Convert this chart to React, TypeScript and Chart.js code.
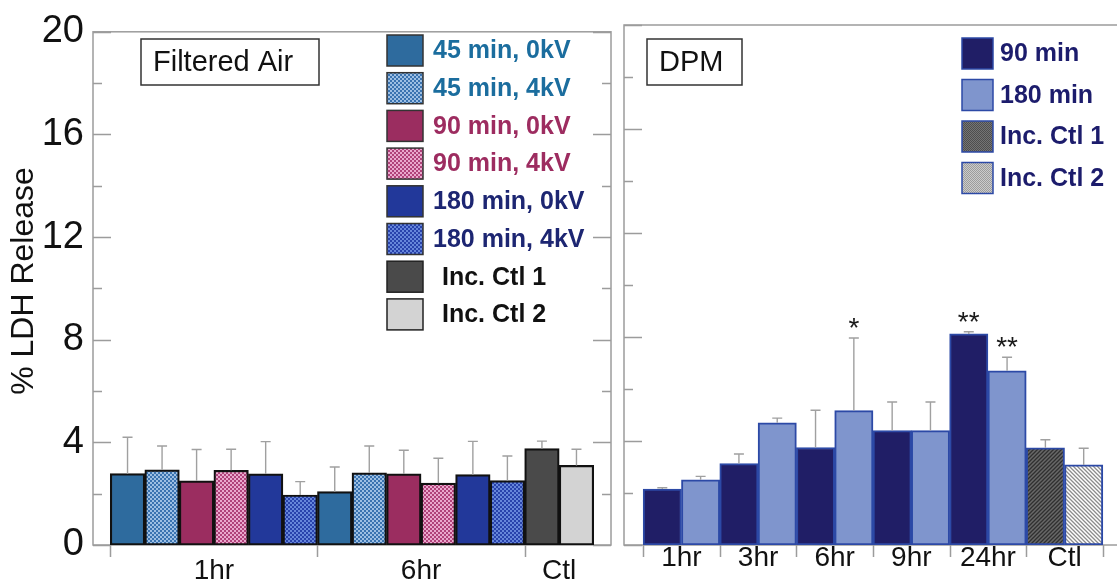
import { useEffect, useRef } from "react";
import { Chart, registerables } from "chart.js";

Chart.register(...registerables);

// ---- Filtered air panel ----
const airTimepoints = ["1hr", "6hr"];
const airSeries = ["45 min, 0kV", "45 min, 4kV", "90 min, 0kV", "90 min, 4kV", "180 min, 0kV", "180 min, 4kV"];
const air1hrMean = [2.78, 2.93, 2.5, 2.91, 2.77, 1.95];
const air1hrSd = [1.42, 0.93, 1.22, 0.82, 1.26, 0.52];
const air6hrMean = [2.08, 2.81, 2.77, 2.41, 2.74, 2.51];
const air6hrSd = [0.96, 1.05, 0.92, 0.97, 1.3, 0.96];
const airCtlLabels = ["Inc. Ctl 1", "Inc. Ctl 2"];
const airCtlMean = [3.76, 3.1];
const airCtlSd = [0.29, 0.63];

// ---- DPM panel ----
const dpmTimepoints = ["1hr", "3hr", "6hr", "9hr", "24hr"];
const dpmSeries = ["90 min", "180 min"];
const dpm90Mean = [2.15, 3.13, 3.75, 4.4, 8.12];
const dpm90Sd = [0.05, 0.37, 1.43, 1.1, 0.08];
const dpm90Sig = ["", "", "", "", "**"];
const dpm180Mean = [2.51, 4.7, 5.17, 4.4, 6.7];
const dpm180Sd = [0.13, 0.18, 2.79, 1.1, 0.52];
const dpm180Sig = ["", "", "*", "", "**"];
const dpmCtlLabels = ["Inc. Ctl 1", "Inc. Ctl 2"];
const dpmCtlMean = [3.74, 3.08];
const dpmCtlSd = [0.31, 0.64];

const ctlCategory = "Ctl";
const yTicks = { min: 0, max: 20, step: 4, minorStep: 2 };
const yTitle = "% LDH Release";

const FONT = '"Liberation Sans", Arial, Helvetica, sans-serif';

function checker(a: string, b: string, cell = 2): CanvasPattern {
  const c = document.createElement("canvas");
  c.width = c.height = cell * 2;
  const g = c.getContext("2d")!;
  g.fillStyle = a;
  g.fillRect(0, 0, cell * 2, cell * 2);
  g.fillStyle = b;
  g.fillRect(0, 0, cell, cell);
  g.fillRect(cell, cell, cell, cell);
  return g.createPattern(c, "repeat")!;
}

function hatch(bg: string, line: string, rising: boolean, gap = 4): CanvasPattern {
  const c = document.createElement("canvas");
  c.width = c.height = gap;
  const g = c.getContext("2d")!;
  g.fillStyle = bg;
  g.fillRect(0, 0, gap, gap);
  g.strokeStyle = line;
  g.lineWidth = 1.3;
  g.beginPath();
  if (rising) {
    g.moveTo(0, gap); g.lineTo(gap, 0);
    g.moveTo(-1, 1); g.lineTo(1, -1);
    g.moveTo(gap - 1, gap + 1); g.lineTo(gap + 1, gap - 1);
  } else {
    g.moveTo(0, 0); g.lineTo(gap, gap);
    g.moveTo(-1, gap - 1); g.lineTo(1, gap + 1);
    g.moveTo(gap - 1, -1); g.lineTo(gap + 1, 1);
  }
  g.stroke();
  return g.createPattern(c, "repeat")!;
}

type LegendItem = { label: string; fill: any; border: string; color: string; indent: number };
type Decor = {
  groups: { label: string; size: number }[];
  closeLast: boolean;
  rightTicks: boolean;
  legend: { x: number; y: number; w: number; h: number; gap: number; textX: number; items: LegendItem[] };
  box: { x: number; y: number; w: number; h: number; text: string };
  title: boolean;
};

function groupLayout(groups: { label: string; size: number }[]) {
  const centers: number[] = [];
  const starts: number[] = [];
  let pos = 0;
  groups.forEach((g) => {
    starts.push(pos - 0.5);
    centers.push(pos + (g.size - 1) / 2);
    pos += g.size;
  });
  return { centers, starts, end: pos - 0.5 };
}

function decorPlugin(d: Decor) {
  const lay = groupLayout(d.groups);
  return {
    id: "panelDecor",
    beforeDatasetsDraw(chart: any) {
      const { ctx, chartArea: a, scales } = chart;
      const ys = scales.y;
      const xs = scales.x;
      ctx.save();
      ctx.strokeStyle = "#9c9c9c";
      ctx.lineWidth = 1.5;
      ctx.strokeRect(a.left, a.top, a.right - a.left, a.bottom - a.top);
      ctx.beginPath();
      for (let v = yTicks.min; v <= yTicks.max; v += yTicks.minorStep) {
        const py = Math.round(ys.getPixelForValue(v)) + 0.5;
        const len = v % yTicks.step === 0 ? 18 : 9;
        ctx.moveTo(a.left, py);
        ctx.lineTo(a.left + len, py);
        if (d.rightTicks) {
          ctx.moveTo(a.right, py);
          ctx.lineTo(a.right - len, py);
        }
      }
      const bounds = d.closeLast ? [...lay.starts, lay.end] : lay.starts;
      bounds.forEach((b) => {
        const px = Math.round(xs.getPixelForValue(b)) + 0.5;
        ctx.moveTo(px, a.bottom);
        ctx.lineTo(px, a.bottom + 12);
      });
      ctx.stroke();
      ctx.restore();
    },
    afterDatasetsDraw(chart: any) {
      const { ctx, scales } = chart;
      const ys = scales.y;
      ctx.save();
      // error bars (upper half only)
      chart.data.datasets.forEach((ds: any, i: number) => {
        const meta = chart.getDatasetMeta(i);
        meta.data.forEach((bar: any, j: number) => {
          const v = ds.data[j].y;
          const sd = ds.errors[j];
          const top = ys.getPixelForValue(v + sd);
          ctx.strokeStyle = "#a0a0a0";
          ctx.lineWidth = 1.4;
          ctx.beginPath();
          ctx.moveTo(bar.x, bar.y);
          ctx.lineTo(bar.x, top);
          ctx.moveTo(bar.x - 5, top);
          ctx.lineTo(bar.x + 5, top);
          ctx.stroke();
          const mark = ds.marks ? ds.marks[j] : "";
          if (mark) {
            ctx.fillStyle = "#1a1a1a";
            ctx.font = `28px ${FONT}`;
            ctx.textAlign = "center";
            ctx.textBaseline = "alphabetic";
            ctx.fillText(mark, bar.x, top - 1);
          }
        });
      });
      // legend
      const L = d.legend;
      L.items.forEach((it, k) => {
        const y0 = L.y + k * L.gap;
        ctx.fillStyle = it.fill;
        ctx.fillRect(L.x, y0, L.w, L.h);
        ctx.strokeStyle = it.border;
        ctx.lineWidth = 1.5;
        ctx.strokeRect(L.x, y0, L.w, L.h);
        ctx.fillStyle = it.color;
        ctx.font = `bold 25px ${FONT}`;
        ctx.textAlign = "left";
        ctx.textBaseline = "middle";
        ctx.fillText(it.label, L.textX + it.indent, y0 + L.h / 2 + 1);
      });
      // panel name box
      const B = d.box;
      ctx.fillStyle = "#ffffff";
      ctx.fillRect(B.x, B.y, B.w, B.h);
      ctx.strokeStyle = "#333333";
      ctx.lineWidth = 1.5;
      ctx.strokeRect(B.x, B.y, B.w, B.h);
      ctx.fillStyle = "#111111";
      ctx.font = `29px ${FONT}`;
      ctx.textAlign = "left";
      ctx.textBaseline = "middle";
      ctx.fillText(B.text, B.x + 12, B.y + B.h / 2 + 1);
      // y-axis title
      if (d.title) {
        ctx.save();
        ctx.translate(33, 281);
        ctx.rotate(-Math.PI / 2);
        ctx.fillStyle = "#111111";
        ctx.font = `32px ${FONT}`;
        ctx.textAlign = "center";
        ctx.textBaseline = "alphabetic";
        ctx.fillText(yTitle, 0, 0);
        ctx.restore();
      }
      ctx.restore();
    },
  };
}

function baseOptions(d: Decor, opts: { xMin: number; xMax: number; yAxis: boolean; labelPad: number; padding: any }) {
  const lay = groupLayout(d.groups);
  return {
    responsive: false,
    maintainAspectRatio: false,
    animation: false as const,
    devicePixelRatio: 1,
    layout: { padding: opts.padding },
    plugins: { legend: { display: false }, tooltip: { enabled: false } },
    scales: {
      x: {
        type: "linear" as const,
        offset: false,
        min: opts.xMin,
        max: opts.xMax,
        grid: { display: false, drawTicks: false, offset: false },
        border: { display: false },
        afterBuildTicks: (s: any) => {
          s.ticks = lay.centers.map((c) => ({ value: c }));
        },
        afterFit: (s: any) => {
          s.height = 42;
        },
        ticks: {
          autoSkip: false,
          maxRotation: 0,
          padding: opts.labelPad,
          color: "#111111",
          font: { family: FONT, size: 28 },
          callback: (_v: any, i: number) => d.groups[i]?.label ?? "",
        },
      },
      y: {
        display: opts.yAxis,
        min: yTicks.min,
        max: yTicks.max,
        grid: { display: false, drawTicks: false },
        border: { display: false },
        afterFit: (s: any) => {
          s.width = opts.yAxis ? 93 : 0;
        },
        ticks: {
          stepSize: yTicks.step,
          padding: 9,
          color: "#111111",
          font: { family: FONT, size: 38 },
        },
      },
    },
  };
}

function airConfig(): any {
  const fills = [
    "#2e6b9e",
    checker("#3a73b0", "#9dbfe3"),
    "#9b2d60",
    checker("#b0427a", "#eaa8cd"),
    "#22389a",
    checker("#2842ac", "#6686da"),
  ];
  const ctlFills = ["#4a4a4a", "#d3d3d3"];
  const textColors = ["#1b6d9e", "#1b6d9e", "#9d2c60", "#9d2c60", "#1d2672", "#1d2672"];
  const means = [air1hrMean, air6hrMean];
  const sds = [air1hrSd, air6hrSd];
  const n = airSeries.length;

  const datasets: any[] = airSeries.map((name, s) => ({
    label: name,
    data: airTimepoints.map((_, g) => ({ x: g * n + s, y: means[g][s] })),
    errors: airTimepoints.map((_, g) => sds[g][s]),
    backgroundColor: fills[s],
    borderColor: "#111111",
    borderWidth: 2.2,
    borderSkipped: false,
    grouped: false,
    barPercentage: 1,
    categoryPercentage: 1,
  }));
  airCtlLabels.forEach((name, k) => {
    datasets.push({
      label: name,
      data: [{ x: airTimepoints.length * n + k, y: airCtlMean[k] }],
      errors: [airCtlSd[k]],
      backgroundColor: ctlFills[k],
      borderColor: "#111111",
      borderWidth: 2.2,
      borderSkipped: false,
      grouped: false,
      barPercentage: 1,
      categoryPercentage: 1,
    });
  });

  const decor: Decor = {
    groups: [
      ...airTimepoints.map((t) => ({ label: t, size: n })),
      { label: ctlCategory, size: airCtlLabels.length },
    ],
    closeLast: false,
    rightTicks: true,
    legend: {
      x: 387, y: 35, w: 36, h: 31, gap: 37.7, textX: 433,
      items: [
        ...airSeries.map((name, s) => ({ label: name, fill: fills[s], border: "#333", color: textColors[s], indent: 0 })),
        ...airCtlLabels.map((name, k) => ({ label: name, fill: ctlFills[k], border: "#222", color: "#111111", indent: 9 })),
      ],
    },
    box: { x: 141, y: 39, w: 178, h: 46, text: "Filtered Air" },
    title: true,
  };

  return {
    type: "bar",
    data: { datasets },
    options: baseOptions(decor, { xMin: -1, xMax: 14, yAxis: true, labelPad: 9, padding: { top: 25, right: 4, left: 0, bottom: 0 } }),
    plugins: [decorPlugin(decor)],
  };
}

function dpmConfig(): any {
  const fills = ["#201e66", "#7f95cd"];
  const ctlFills = [hatch("#686868", "#303030", true), hatch("#ffffff", "#8c8c8c", false)];
  const legendCtl = [checker("#4e4e4e", "#747474", 1), checker("#9c9c9c", "#cbcbcb", 1)];
  const means = [dpm90Mean, dpm180Mean];
  const sds = [dpm90Sd, dpm180Sd];
  const sigs = [dpm90Sig, dpm180Sig];
  const n = dpmSeries.length;
  const blue = "#2c49a6";

  const datasets: any[] = dpmSeries.map((name, s) => ({
    label: name,
    data: dpmTimepoints.map((_, g) => ({ x: g * n + s, y: means[s][g] })),
    errors: sds[s],
    marks: sigs[s],
    backgroundColor: fills[s],
    borderColor: blue,
    borderWidth: 2,
    borderSkipped: false,
    grouped: false,
    barPercentage: 1,
    categoryPercentage: 1,
  }));
  dpmCtlLabels.forEach((name, k) => {
    datasets.push({
      label: name,
      data: [{ x: dpmTimepoints.length * n + k, y: dpmCtlMean[k] }],
      errors: [dpmCtlSd[k]],
      backgroundColor: ctlFills[k],
      borderColor: blue,
      borderWidth: 2,
      borderSkipped: false,
      grouped: false,
      barPercentage: 1,
      categoryPercentage: 1,
    });
  });

  const decor: Decor = {
    groups: [
      ...dpmTimepoints.map((t) => ({ label: t, size: n })),
      { label: ctlCategory, size: dpmCtlLabels.length },
    ],
    closeLast: true,
    rightTicks: false,
    legend: {
      x: 347, y: 38, w: 31, h: 31, gap: 41.5, textX: 385,
      items: [
        ...dpmSeries.map((name, s) => ({ label: name, fill: fills[s], border: blue, color: "#1c1c6c", indent: 0 })),
        ...dpmCtlLabels.map((name, k) => ({ label: name, fill: legendCtl[k], border: blue, color: "#1c1c6c", indent: 0 })),
      ],
    },
    box: { x: 32, y: 39, w: 95, h: 46, text: "DPM" },
    title: false,
  };

  return {
    type: "bar",
    data: { datasets },
    options: baseOptions(decor, { xMin: -1, xMax: 12, yAxis: false, labelPad: -4, padding: { top: 25, right: 8, left: 9, bottom: 0 } }),
    plugins: [decorPlugin(decor)],
  };
}

export default function App() {
  const leftRef = useRef<HTMLCanvasElement>(null);
  const rightRef = useRef<HTMLCanvasElement>(null);

  useEffect(() => {
    const left = new Chart(leftRef.current!, airConfig());
    const right = new Chart(rightRef.current!, dpmConfig());
    return () => {
      left.destroy();
      right.destroy();
    };
  }, []);

  return (
    <div style={{ position: "fixed", left: 0, top: 0, width: 1117, height: 587, overflow: "hidden", background: "#ffffff" }}>
      <canvas ref={leftRef} width={615} height={587} style={{ position: "absolute", left: 0, top: 0, width: 615, height: 587 }} />
      <canvas ref={rightRef} width={515} height={587} style={{ position: "absolute", left: 615, top: 0, width: 515, height: 587 }} />
    </div>
  );
}
